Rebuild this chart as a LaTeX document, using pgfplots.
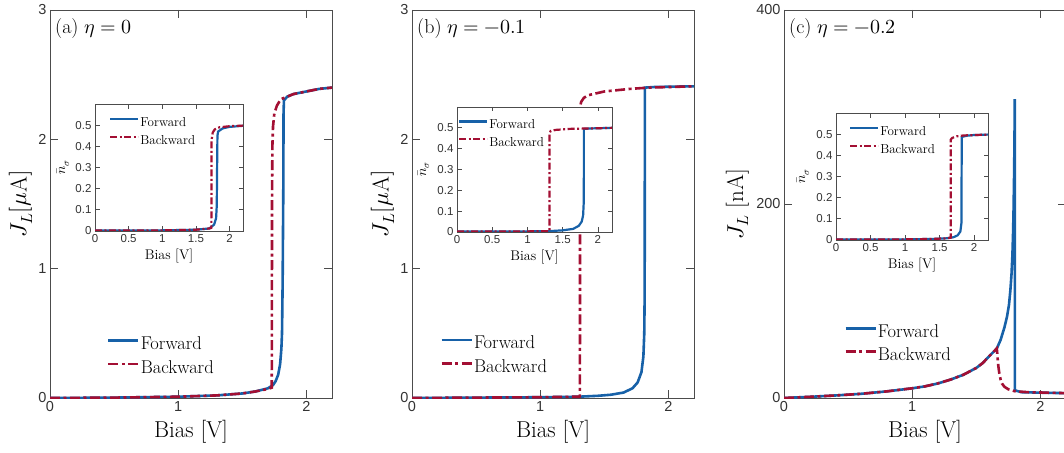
\documentclass[border=0pt]{standalone}
\usepackage{fontspec}
\usepackage{unicode-math}
\usepackage{pgfplots}
\pgfplotsset{compat=1.18}
\newfontfamily\tickfont{Liberation Sans}
\definecolor{fwd}{rgb}{0.09,0.38,0.66}
\definecolor{bwd}{rgb}{0.64,0.06,0.20}
\definecolor{axgray}{gray}{0.3}

\pgfplotsset{
  base/.style={scale only axis, xmin=0, xmax=2.2,
    axis line style={axgray, line width=0.8pt},
    tick style={axgray, line width=0.8pt},
    tick align=inside, xtick pos=both, ytick pos=both,
    ticklabel style={text=black!80},
    /pgf/number format/assume math mode=true,
    legend cell align=left,
    legend style={draw=none, fill=none, anchor=north west, inner sep=0pt,
      nodes={inner xsep=1pt, inner ysep=0pt}},
  },
  main/.style={base, width=282pt, height=388pt, xtick={0,1,2},
    major tick length=8pt,
    ticklabel style={font=\tickfont\fontsize{14.5}{16}\selectfont},
    label style={font=\fontsize{23}{27}\selectfont},
    xlabel={Bias [V]},
    xlabel style={at={(axis description cs:0.5,-0.088)}, anchor=center},
    ylabel style={at={(axis description cs:-0.103,0.5)}, anchor=center},
    legend style={font=\fontsize{18.5}{20}\selectfont, row sep=9pt},
    legend image code/.code={\draw[##1] (0pt,0.34em) -- (30pt,0.34em);},
  },
  inset/.style={base, xtick={0,0.5,1,1.5,2}, ymin=0, ymax=0.6,
    ytick={0,0.1,0.2,0.3,0.4,0.5},
    major tick length=4.5pt,
    ticklabel style={font=\tickfont\fontsize{11.5}{13}\selectfont},
    label style={font=\fontsize{14}{15}\selectfont},
    xlabel={Bias [V]}, ylabel={$\bar{n}_\sigma$},
    xlabel style={at={(axis description cs:0.5,-0.197)}, anchor=center},
    ylabel style={at={(axis description cs:-0.216,0.5)}, anchor=center},
    axis background/.style={fill=white},
    legend style={font=\fontsize{13}{14}\selectfont, row sep=7pt},
    legend image code/.code={\draw[##1] (0pt,0.34em) -- (28pt,0.34em);},
  },
  fw/.style={color=fwd, line width=2.6pt, solid},
  bw/.style={color=bwd, line width=2.6pt, dash pattern=on 10pt off 3.5pt on 3pt off 3.5pt},
  fwi/.style={color=fwd, line width=2.2pt, solid},
  bwi/.style={color=bwd, line width=2.2pt, dash pattern=on 7pt off 2.5pt on 2pt off 2.5pt},
}

\begin{document}
\begin{tikzpicture}[x=1pt,y=1pt]
\useasboundingbox (0,0) rectangle (1064,452);

% ---------- (a) eta = 0
\begin{axis}[main, at={(50pt,54pt)}, anchor=south west,
  ymin=0, ymax=3, ytick={0,1,2,3}, ylabel={$J_L[\mu\mathrm{A}]$},
  legend style={at={(axis description cs:0.202,0.158)}}]
\addplot[fw] coordinates {(0,0)(0.5,0.003)(1.0,0.01)(1.3,0.02)(1.5,0.035)(1.6,0.05)(1.7,0.075)(1.74,0.1)(1.76,0.13)(1.78,0.18)(1.795,0.26)(1.805,0.38)(1.81,0.5)(1.815,0.9)(1.82,1.6)(1.822,2.2)(1.825,2.3)(1.85,2.33)(1.9,2.35)(2.0,2.37)(2.1,2.39)(2.2,2.40)};
\addlegendentry{Forward}
\addplot[bw] coordinates {(0,0)(0.5,0.003)(1.0,0.01)(1.3,0.02)(1.5,0.035)(1.6,0.05)(1.7,0.07)(1.73,0.08)(1.731,0.5)(1.732,1.5)(1.735,1.95)(1.74,2.1)(1.75,2.2)(1.77,2.26)(1.8,2.31)(1.85,2.33)(1.9,2.35)(2.0,2.37)(2.1,2.39)(2.2,2.40)};
\addlegendentry{Backward}
\node[anchor=north west, inner sep=0pt, font=\fontsize{20}{24}\selectfont] at (rel axis cs:0,1) [xshift=5pt, yshift=-8pt] {(a) $\eta=0$};
\end{axis}

\begin{axis}[inset, at={(95pt,221pt)}, anchor=south west, width=148pt, height=127pt,
  legend style={at={(axis description cs:0.095,0.895)}}]
\addplot[fwi] coordinates {(0,0.002)(1,0.003)(1.5,0.006)(1.7,0.012)(1.77,0.03)(1.8,0.06)(1.81,0.12)(1.815,0.3)(1.82,0.45)(1.83,0.47)(1.9,0.485)(2.0,0.492)(2.2,0.497)};
\addlegendentry{Forward}
\addplot[bwi] coordinates {(0,0.002)(1,0.003)(1.5,0.006)(1.7,0.012)(1.73,0.015)(1.731,0.2)(1.733,0.43)(1.75,0.465)(1.78,0.48)(1.85,0.49)(2.0,0.495)(2.2,0.498)};
\addlegendentry{Backward}
\end{axis}

% ---------- (b) eta = -0.1
\begin{axis}[main, at={(412pt,54pt)}, anchor=south west,
  ymin=0, ymax=3, ytick={0,1,2,3}, ylabel={$J_L[\mu\mathrm{A}]$},
  legend style={at={(axis description cs:0.1,0.16)}}]
\addplot[fw] coordinates {(0,0)(0.5,0.003)(1.0,0.006)(1.3,0.01)(1.45,0.017)(1.55,0.025)(1.65,0.042)(1.72,0.075)(1.76,0.12)(1.79,0.2)(1.805,0.32)(1.812,0.5)(1.815,0.8)(1.817,2.40)(1.9,2.405)(2.2,2.41)};
\addlegendentry{Forward}
\addplot[bw] coordinates {(0,0)(0.5,0.003)(1.0,0.006)(1.3,0.01)(1.31,0.012)(1.311,2.25)(1.32,2.29)(1.34,2.32)(1.37,2.34)(1.5,2.37)(1.7,2.39)(1.85,2.40)(2.2,2.41)};
\addlegendentry{Backward}
\node[anchor=north west, inner sep=0pt, font=\fontsize{20}{24}\selectfont] at (rel axis cs:0,1) [xshift=5pt, yshift=-8pt] {(b) $\eta=-0.1$};
\end{axis}

\begin{axis}[inset, at={(457pt,220pt)}, anchor=south west, width=155pt, height=125pt,
  legend style={at={(axis description cs:0.006,0.9)}}]
\addplot[fwi] coordinates {(0,0.002)(1,0.003)(1.3,0.004)(1.5,0.008)(1.65,0.015)(1.73,0.03)(1.77,0.05)(1.79,0.08)(1.80,0.15)(1.801,0.495)(1.9,0.497)(2.2,0.5)};
\addlegendentry{Forward}
\addplot[bwi] coordinates {(0,0.002)(1,0.003)(1.313,0.004)(1.314,0.475)(1.33,0.485)(1.4,0.49)(1.6,0.495)(2.0,0.498)(2.2,0.5)};
\addlegendentry{Backward}
\end{axis}

% ---------- (c) eta = -0.2
\begin{axis}[main, at={(784pt,54pt)}, anchor=south west,
  ymin=0, ymax=400, ytick={0,200,400}, ylabel={$J_L$ [nA]},
  ylabel style={at={(axis description cs:-0.165,0.5)}},
  legend style={at={(axis description cs:0.213,0.19)}}]
\addplot[fw] coordinates {(0,0)(0.2,1.2)(0.4,2.6)(0.6,4.3)(0.8,6.8)(1.0,10)(1.1,12)(1.2,15)(1.3,19)(1.4,24)(1.45,27.5)(1.5,31)(1.55,36)(1.6,43)(1.63,47)(1.66,51)(1.69,60)(1.72,73)(1.74,84)(1.755,96)(1.766,111)(1.775,128)(1.782,148)(1.787,170)(1.791,195)(1.795,230)(1.798,265)(1.80,308)(1.801,8)(1.85,6)(2.0,5.5)(2.2,5)};
\addlegendentry{Forward}
\addplot[bw] coordinates {(0,0)(0.2,1.2)(0.4,2.6)(0.6,4.3)(0.8,6.8)(1.0,10)(1.1,12)(1.2,15)(1.3,19)(1.4,24)(1.45,27.5)(1.5,31)(1.55,36)(1.6,43)(1.63,47)(1.66,51)(1.663,47)(1.667,40)(1.672,33)(1.68,25)(1.69,19)(1.70,15)(1.72,11.5)(1.75,9)(1.8,7)(1.9,6)(2.2,5)};
\addlegendentry{Backward}
\node[anchor=north west, inner sep=0pt, font=\fontsize{20}{24}\selectfont] at (rel axis cs:0,1) [xshift=5pt, yshift=-8pt] {(c) $\eta=-0.2$};
\end{axis}

\begin{axis}[inset, at={(836pt,212pt)}, anchor=south west, width=152pt, height=127pt,
  legend style={at={(axis description cs:0.085,0.895)}}]
\addplot[fwi] coordinates {(0,0.002)(1,0.003)(1.4,0.005)(1.6,0.008)(1.7,0.013)(1.76,0.022)(1.8,0.04)(1.815,0.08)(1.82,0.487)(1.9,0.493)(2.0,0.496)(2.2,0.498)};
\addlegendentry{Forward}
\addplot[bwi] coordinates {(0,0.002)(1,0.003)(1.4,0.005)(1.6,0.008)(1.66,0.011)(1.661,0.474)(1.68,0.482)(1.75,0.49)(1.85,0.494)(2.2,0.498)};
\addlegendentry{Backward}
\end{axis}
\end{tikzpicture}
\end{document}
